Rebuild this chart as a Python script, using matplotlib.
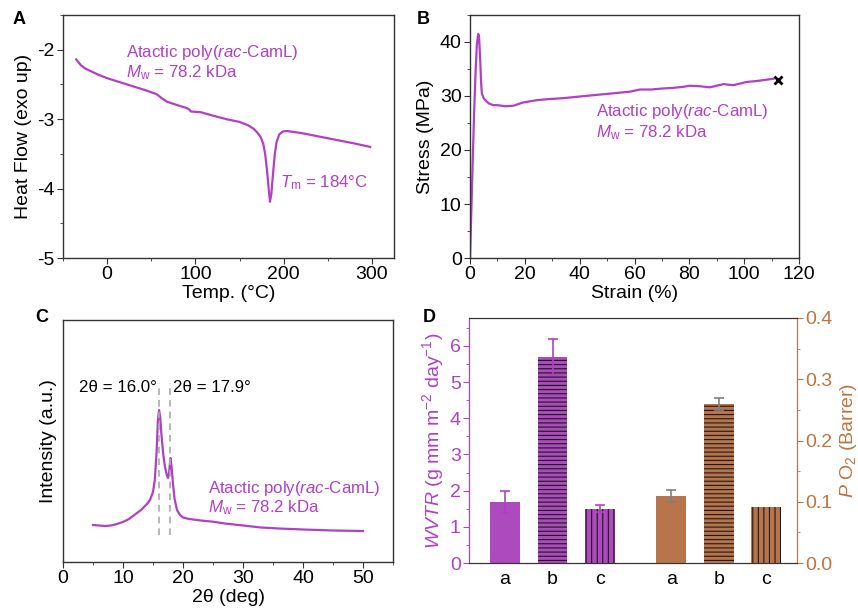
import matplotlib
matplotlib.use("Agg")
import matplotlib.pyplot as plt
import numpy as np
from matplotlib.ticker import MultipleLocator, FormatStrFormatter

plt.rcParams['font.family'] = ['Liberation Sans', 'DejaVu Sans']
plt.rcParams['mathtext.fontset'] = 'custom'
plt.rcParams['mathtext.rm'] = 'Liberation Sans'
plt.rcParams['mathtext.it'] = 'Liberation Sans:italic'
plt.rcParams['mathtext.bf'] = 'Liberation Sans:bold'
plt.rcParams['hatch.linewidth'] = 0.8

PURPLE = '#b040c4'
BAR_PURPLE = '#ad4abd'
BROWN = '#b8744a'
BROWN_TXT = '#c0743e'
AX = '#333333'

# ---- Panel A: DSC ----
dsc_T = [-35, -30, -25, -20, -10, 0, 15, 30, 45, 56, 62, 68, 80, 90, 93, 95, 106, 120, 135, 150, 160, 166, 170, 174, 177,
         179, 181, 183, 184.5, 186, 188, 190, 192, 195, 199, 203, 220, 240, 260, 280, 298]
dsc_H = [-2.14, -2.22, -2.27, -2.30, -2.36, -2.41, -2.47, -2.53, -2.59, -2.64, -2.70, -2.75, -2.80, -2.84, -2.86, -2.89, -2.90,
         -2.95, -3.00, -3.04, -3.09, -3.14, -3.19, -3.26, -3.36, -3.50, -3.72, -4.00, -4.19, -4.08, -3.78, -3.50, -3.33, -3.22,
         -3.18, -3.17, -3.20, -3.25, -3.30, -3.35, -3.40]

# ---- Panel B: stress-strain ----
ss_strain = [0, 0.5, 1.0, 1.5, 2.0, 2.5, 3.0, 3.3, 3.7, 4.0, 4.3, 5.0, 6.0, 7.0, 8.5, 10, 13, 15.8, 19.4, 24, 28, 34, 40, 46,
             52.3, 58.3, 62, 66, 70.5, 74, 77.8, 80.2, 84, 87.5, 92.4, 96, 100.9, 105, 110.7]
ss_stress = [0, 9, 18, 27, 34, 39.5, 41.5, 41, 37, 33, 30.5, 29.6, 29.0, 28.6, 28.3, 28.3, 28.1, 28.2, 28.8, 29.2, 29.4, 29.6,
             29.9, 30.2, 30.5, 30.8, 31.2, 31.2, 31.4, 31.5, 31.7, 31.9, 31.8, 31.6, 32.2, 32.0, 32.6, 32.8, 33.2]
break_point = (112.2, 33.0)

# ---- Panel C: XRD ----
xrd_2theta = [5, 6, 7, 8, 9, 10, 11, 12, 13, 13.5, 14, 14.5, 15, 15.3, 15.6, 15.8, 16.0, 16.2, 16.4, 16.7, 17.0, 17.3, 17.5,
              17.7, 17.9, 18.1, 18.3, 18.6, 19, 19.5, 20, 21, 23, 25, 27, 30, 33, 36, 40, 45, 50]
xrd_int = [37, 36.5, 36, 36.5, 38, 40, 43, 47.5, 52, 55, 58, 62, 70, 82, 110, 140, 152, 145, 128, 108, 95, 87, 84,
           90, 104, 95, 80, 63, 52, 47, 44.5, 43, 41.5, 40.3, 38.5, 36.5, 34.5, 33.5, 32.5, 31.5, 31]
peaks = [16.0, 17.9]

# ---- Panel D: barrier ----
bar_labels = ['a', 'b', 'c']
wvtr = [1.68, 5.7, 1.5]
wvtr_err = [0.3, 0.5, 0.1]
po2 = [0.110, 0.260, 0.091]
po2_err = [0.010, 0.010, 0.0]
hatches = ['', '----', '|||']

W, H = 858, 608
fig = plt.figure(figsize=(W / 100, H / 100), dpi=100)

FS = 14
TFS = 14
AFS = 12.2


def add_ax(l, r, t, b):
    return fig.add_axes([l / W, 1 - b / H, (r - l) / W, (b - t) / H])


def style(ax):
    for s in ax.spines.values():
        s.set_color(AX)
        s.set_linewidth(1.0)
    ax.tick_params(which='both', direction='out', top=False, right=False, colors=AX, labelcolor='black', labelsize=TFS)
    ax.tick_params(which='major', length=4, pad=2)
    ax.tick_params(which='minor', length=2.5)


# A
axA = add_ax(63, 394, 15, 258)
style(axA)
axA.plot(dsc_T, dsc_H, color=PURPLE, lw=1.6)
axA.set_xlim(-50, 325)
axA.set_ylim(-5, -1.5)
axA.xaxis.set_major_locator(MultipleLocator(100))
axA.xaxis.set_minor_locator(MultipleLocator(50))
axA.yaxis.set_minor_locator(MultipleLocator(0.5))
axA.set_yticks([-5, -4, -3, -2])
axA.set_yticklabels(['-5', '-4', '-3', '-2'])
axA.set_xlabel('Temp. (°C)', fontsize=FS, labelpad=1)
axA.set_ylabel('Heat Flow (exo up)', fontsize=FS, labelpad=4)
axA.text(21, -2.04, r'Atactic poly($\it{rac}$-CamL)', color=PURPLE, fontsize=AFS, va='center')
axA.text(21, -2.33, r'$\it{M}_\mathrm{w}$ = 78.2 kDa', color=PURPLE, fontsize=AFS, va='center')
axA.text(196, -3.92, r'$\it{T}_\mathrm{m}$ = 184°C', color=PURPLE, fontsize=AFS, va='center')

# B
axB = add_ax(470, 799, 15, 258)
style(axB)
axB.plot(ss_strain, ss_stress, color=PURPLE, lw=1.6)
axB.plot([break_point[0]], [break_point[1]], marker='x', color='black', ms=6, mew=2)
axB.set_xlim(0, 120)
axB.set_ylim(0, 45)
axB.xaxis.set_major_locator(MultipleLocator(20))
axB.xaxis.set_minor_locator(MultipleLocator(10))
axB.yaxis.set_major_locator(MultipleLocator(10))
axB.yaxis.set_minor_locator(MultipleLocator(5))
axB.set_xlabel('Strain (%)', fontsize=FS, labelpad=1)
axB.set_ylabel('Stress (MPa)', fontsize=FS, labelpad=4)
axB.text(46, 27.2, r'Atactic poly($\it{rac}$-CamL)', color=PURPLE, fontsize=AFS, va='center')
axB.text(46, 23.3, r'$\it{M}_\mathrm{w}$ = 78.2 kDa', color=PURPLE, fontsize=AFS, va='center')

# C
axC = add_ax(63, 393, 320, 562)
style(axC)
axC.plot(xrd_2theta, xrd_int, color=PURPLE, lw=1.6)
for p in peaks:
    axC.plot([p, p], [27, 179], color='#aaaaaa', lw=1.2, ls=(0, (4, 3)))
axC.set_xlim(0, 55)
axC.set_ylim(0, 242)
axC.xaxis.set_major_locator(MultipleLocator(10))
axC.xaxis.set_minor_locator(MultipleLocator(5))
axC.set_yticks([])
axC.set_xlabel('2θ (deg)', fontsize=FS, labelpad=1)
axC.set_ylabel('Intensity (a.u.)', fontsize=FS, labelpad=4)
axC.text(15.6, 175, '2θ = 16.0°', color='black', fontsize=AFS, va='center', ha='right')
axC.text(18.4, 175, '2θ = 17.9°', color='black', fontsize=AFS, va='center', ha='left')
axC.text(24.2, 74, r'Atactic poly($\it{rac}$-CamL)', color=PURPLE, fontsize=AFS, va='center')
axC.text(24.2, 54, r'$\it{M}_\mathrm{w}$ = 78.2 kDa', color=PURPLE, fontsize=AFS, va='center')

# D
axD = add_ax(469, 797, 318, 563)
axD2 = axD.twinx()
xpos1 = np.arange(3) + 1.0
xpos2 = np.arange(3) + 4.5
bw = 0.63
axD.bar(xpos1, wvtr, width=bw, color=BAR_PURPLE, edgecolor='none', zorder=2)
axD.bar(xpos1, wvtr, width=bw, facecolor='none', edgecolor='#1a1a1a', lw=0, hatch=hatches, zorder=3)
axD.errorbar(xpos1, wvtr, yerr=wvtr_err, fmt='none', ecolor=PURPLE, elinewidth=1.2, capsize=3.5, capthick=1.2, zorder=4)
axD2.bar(xpos2, po2, width=bw, color=BROWN, edgecolor='none', zorder=2)
axD2.bar(xpos2, po2, width=bw, facecolor='none', edgecolor='#1a1a1a', lw=0, hatch=hatches, zorder=3)
axD2.errorbar(xpos2[:2], po2[:2], yerr=po2_err[:2], fmt='none', ecolor='#808080', elinewidth=1.2, capsize=3.5, capthick=1.2, zorder=4)
axD.set_xlim(0.24, 7.15)
axD.set_ylim(0, 6.77)
axD2.set_ylim(0, 0.4)
axD.set_xticks(list(xpos1) + list(xpos2))
axD.set_xticklabels(bar_labels + bar_labels)
axD.tick_params(axis='x', length=0, labelsize=TFS, pad=6)
axD.yaxis.set_major_locator(MultipleLocator(1))
axD.yaxis.set_minor_locator(MultipleLocator(0.5))
axD.tick_params(axis='y', which='both', direction='out', colors=PURPLE, labelcolor=PURPLE, labelsize=TFS, pad=2)
axD.tick_params(axis='y', which='major', length=4)
axD.tick_params(axis='y', which='minor', length=2.5)
axD2.yaxis.set_major_locator(MultipleLocator(0.1))
axD2.yaxis.set_minor_locator(MultipleLocator(0.05))
axD2.tick_params(axis='y', which='both', direction='out', colors=BROWN, labelcolor=BROWN_TXT, labelsize=TFS, pad=2)
axD2.tick_params(axis='y', which='major', length=4)
axD2.tick_params(axis='y', which='minor', length=2.5)
axD2.yaxis.set_major_formatter(FormatStrFormatter('%.1f'))
for a in (axD, axD2):
    a.spines['left'].set_color(PURPLE)
    a.spines['right'].set_color(BROWN)
    a.spines['top'].set_color(AX)
    a.spines['bottom'].set_color(AX)
axD.set_ylabel(r'$\it{WVTR}$ (g mm m$^{-2}$ day$^{-1}$)', color=PURPLE, fontsize=FS, labelpad=3)
axD2.set_ylabel(r'$\it{P}$ O$_2$ (Barrer)', color=BROWN_TXT, fontsize=FS, labelpad=4)

# Panel letters
for lab, (x, y) in zip('ABCD', [(13, 19), (417, 19), (35, 318), (423, 318)]):
    fig.text(x / W, 1 - y / H, lab, fontsize=13, fontweight='bold', va='center', ha='left')

fig.savefig('out.png', dpi=100)
